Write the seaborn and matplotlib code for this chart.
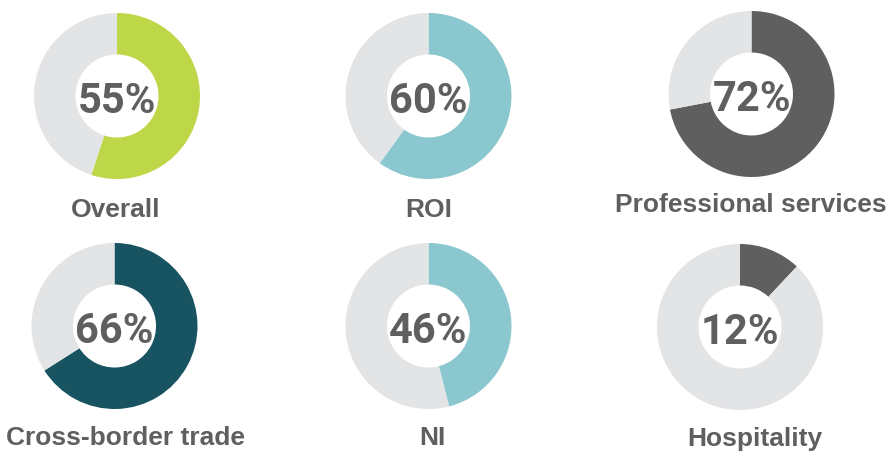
import matplotlib
matplotlib.use("Agg")
import matplotlib.pyplot as plt
import seaborn as sns

# chart data
labels = ["Overall", "ROI", "Professional services",
          "Cross-border trade", "NI", "Hospitality"]
pcts = [55, 60, 72, 66, 46, 12]
colors = ["#BDD748", "#8BC7CF", "#5F5F5F", "#175361", "#8BC7CF", "#5F5F5F"]
REST_COLOR = "#E3E4E6"
TEXT_COLOR = "#5F5F5F"

sns.set_theme(style="white")
plt.rcParams["font.family"] = ["Liberation Sans", "DejaVu Sans"]

W, H = 894, 458
R = 83  # donut radius in px

# layout (pixel coords, y from top)
centers = [(117, 96), (428.5, 96), (751.5, 94),
           (114.5, 326), (428.5, 326), (740, 327)]
label_baselines = [(116, 217), (429, 217), (751, 212),
                   (125.5, 445), (432, 445), (755, 446)]

fig = plt.figure(figsize=(W / 100, H / 100), dpi=100)
fig.patch.set_facecolor("white")

for i, (name, pct, col) in enumerate(zip(labels, pcts, colors)):
    cx, cy = centers[i]
    ax = fig.add_axes([(cx - R) / W, (H - cy - R) / H, 2 * R / W, 2 * R / H])
    ax.pie([pct, 100 - pct], colors=[col, REST_COLOR], startangle=90,
           counterclock=False, radius=1,
           wedgeprops=dict(width=0.5, linewidth=0))
    ax.set_xlim(-1, 1)
    ax.set_ylim(-1, 1)
    ax.set_aspect("equal")
    ax.axis("off")
    ax.text(0, -0.2, f"{pct}%", ha="center", va="baseline",
            fontsize=30, fontweight="bold", color=TEXT_COLOR,
            family=["Roboto", "DejaVu Sans"])

    lx, ly = label_baselines[i]
    fig.text(lx / W, 1 - ly / H, name, ha="center", va="baseline",
             fontsize=19, fontweight="bold", color=TEXT_COLOR)

fig.savefig("out.png", dpi=100, facecolor="white")
